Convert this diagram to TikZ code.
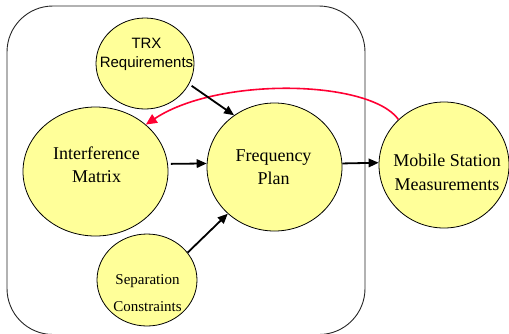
\documentclass[tikz,border=0pt]{standalone}
\usepackage{fontspec}
\setmainfont{Liberation Serif}
\newfontfamily\arialfont{Liberation Sans}
\usetikzlibrary{shapes.geometric,arrows.meta}
\definecolor{bubblefill}{HTML}{FFFF99}
\definecolor{fbred}{HTML}{FF0033}
\begin{document}
\begin{tikzpicture}[x=1bp,y=-1bp,
  bubble/.style={ellipse,draw=black,line width=0.8bp,fill=bubblefill,inner sep=0pt},
  lbl/.style={align=center,inner sep=0pt,font=\fontsize{18bp}{23bp}\selectfont},
  frame/.style={draw=black!85,line width=0.9bp,rounded corners=46bp},
  arr/.style={draw=black,line width=1.8bp,-{Triangle[length=10bp,width=8.5bp]}},
  fb/.style={draw=fbred,line width=1.6bp,-{Triangle[length=11bp,width=10bp]}}]
\useasboundingbox (0,0) rectangle (509,333);
\begin{scope}
\clip (0,0) rectangle (509,333);
\path[frame] (7,6) rectangle (365,334.5);
\end{scope}
% bubbles
\node[bubble,minimum width=98bp,minimum height=91bp] (trx) at (145,63.5) {};
\node[bubble,minimum width=145bp,minimum height=129bp] (interf) at (95.5,171.5) {};
\node[bubble,minimum width=135bp,minimum height=128bp] (freq) at (274.5,167) {};
\node[bubble,minimum width=130bp,minimum height=126bp] (mobile) at (444,165) {};
\node[bubble,minimum width=100bp,minimum height=92bp] (sep) at (147,280) {};
% labels
\node[lbl,font=\arialfont\fontsize{15bp}{19bp}\selectfont] (trxt) at (146.5,54.8) {TRX\\Requirements};
\node[lbl] (interft) at (96.5,164.9) {Interference\\Matrix};
\node[lbl] (freqt) at (273.5,167.6) {Frequency\\Plan};
\node[lbl,font=\fontsize{18bp}{24bp}\selectfont] (mobilet) at (447,172.7) {Mobile Station\\Measurements};
\node[lbl,font=\fontsize{15bp}{27bp}\selectfont] (sept) at (147.5,293.4) {Separation\\Constraints};
% feedback
\draw[fb] (mobile.135) .. controls +(-29,-40) and +(72,-48) .. (interf.43);
% arrows
\draw[arr,shorten <=3bp] (trx.-25) -- (freq.128);
\draw[arr,shorten <=3bp] (interf.6) -- (freq.177);
\draw[arr] (freq.3) -- (mobile.178);
\draw[arr] (sep.34) -- (freq.225);
\end{tikzpicture}
\end{document}
